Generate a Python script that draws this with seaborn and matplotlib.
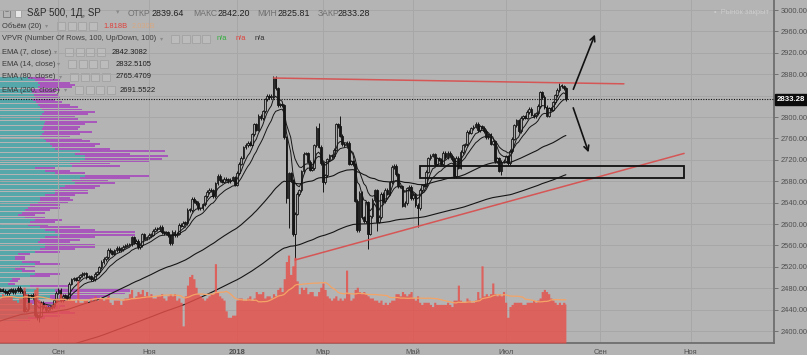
#!/usr/bin/env python3
"""S&P 500 daily chart (Jul 2017 - Aug 2018) with EMAs, volume, VPVR and drawings."""
import numpy as np
import pandas as pd
import matplotlib
matplotlib.use("Agg")
import matplotlib.pyplot as plt
import matplotlib.transforms as mtransforms
from matplotlib.patches import Rectangle
import seaborn as sns

# ---------------------------------------------------------------- data
START = "2017-07-21"
HOLIDAYS = ["2017-09-04", "2017-11-23", "2017-12-25", "2018-01-01", "2018-01-15",
            "2018-02-19", "2018-03-30", "2018-05-28", "2018-07-04", "2018-09-03",
            "2018-11-22"]

CLOSES = [
    2472.54, 2469.91, 2477.13, 2477.83, 2475.42, 2472.10, 2470.30,
    2476.35, 2477.57, 2472.16, 2476.83, 2480.91, 2474.92, 2474.02, 2438.21, 2441.32, 2465.84,
    2464.61, 2468.11, 2430.01, 2425.55, 2428.37, 2452.51, 2444.04, 2438.97, 2443.05, 2444.24,
    2446.30, 2457.59, 2471.65,
    2476.55, 2457.85, 2465.54, 2465.10, 2461.43, 2488.11, 2496.48, 2498.37, 2495.62, 2500.23,
    2503.87, 2506.65, 2508.24, 2500.60, 2502.22, 2496.66, 2496.84, 2507.04, 2510.06, 2519.36,
    2529.12, 2534.58, 2537.74, 2552.07, 2549.33, 2544.73, 2550.64, 2555.24, 2550.93, 2553.17,
    2557.64, 2559.36, 2561.26, 2562.10, 2575.21, 2564.98, 2569.13, 2557.15, 2560.40, 2581.07,
    2572.83, 2575.26,
    2579.36, 2579.85, 2587.84, 2591.13, 2590.64, 2594.38, 2584.62, 2582.30, 2584.84, 2578.87,
    2564.62, 2585.64, 2578.85, 2582.14, 2599.03, 2597.08, 2602.42, 2601.42, 2627.04, 2626.07,
    2647.58,
    2642.22, 2639.44, 2629.57, 2629.27, 2636.98, 2651.50, 2659.99, 2664.11, 2662.85, 2652.01,
    2675.81, 2690.16, 2681.47, 2679.25, 2684.57, 2683.34, 2680.50, 2682.62, 2687.54, 2673.61,
    2695.81, 2713.06, 2723.99, 2743.15, 2747.71, 2751.29, 2748.23, 2767.56, 2786.24, 2776.42,
    2802.56, 2798.03, 2810.30, 2832.97, 2839.13, 2837.54, 2839.25, 2872.87, 2853.53, 2822.43,
    2823.81,
    2821.98, 2762.13, 2648.94, 2695.14, 2681.66, 2581.00, 2619.55, 2656.00, 2662.94, 2698.63,
    2731.20, 2732.22, 2716.26, 2701.33, 2703.96, 2747.30, 2779.60, 2744.28, 2713.83,
    2677.67, 2691.25, 2720.94, 2728.12, 2726.80, 2738.97, 2786.57, 2783.02, 2765.31, 2749.48,
    2747.33, 2752.01, 2712.92, 2716.94, 2711.93, 2643.69, 2588.26, 2658.55, 2612.62, 2605.00,
    2640.87,
    2581.88, 2614.45, 2644.69, 2662.84, 2604.47, 2613.16, 2656.87, 2642.19, 2663.99, 2656.30,
    2677.84, 2706.39, 2708.64, 2693.13, 2670.14, 2670.29, 2634.56, 2639.40, 2666.94, 2669.91,
    2648.05,
    2654.80, 2635.67, 2629.73, 2663.42, 2672.63, 2671.92, 2697.79, 2723.07, 2727.72, 2730.13,
    2711.45, 2722.46, 2720.13, 2712.97, 2733.01, 2724.44, 2733.29, 2727.76, 2721.33, 2689.86,
    2724.01, 2705.27,
    2734.62, 2746.87, 2748.80, 2772.35, 2770.37, 2779.03, 2782.00, 2786.85, 2775.63, 2782.49,
    2779.66, 2773.87, 2762.59, 2767.32, 2749.76, 2754.88, 2717.07, 2723.06, 2699.63, 2716.31,
    2718.37,
    2726.71, 2713.22, 2736.61, 2759.82, 2784.17, 2793.84, 2774.02, 2798.29, 2801.31, 2798.43,
    2809.55, 2815.62, 2804.49, 2801.83, 2806.98, 2820.40, 2846.07, 2837.44, 2818.82, 2802.60,
    2816.29,
    2813.36, 2827.22, 2840.35, 2850.40, 2858.45, 2857.70, 2853.58, 2833.28,
]

# volume, billions
VOLUMES = [
    2.0, 2.1, 2.2, 2.1, 2.3, 2.2, 2.2,
    2.2, 2.2, 2.0, 2.0, 1.9, 2.1, 2.1, 2.6, 2.3, 1.9, 1.9, 1.8, 2.5, 2.6, 2.0, 1.9, 1.8, 1.8,
    1.7, 1.7, 1.8, 1.9, 2.1,
    2.0, 2.3, 2.1, 2.0, 2.0, 2.1, 2.0, 2.0, 1.9, 2.9, 1.9, 1.9, 2.0, 2.0, 1.9, 2.1, 2.0, 2.2,
    2.0, 2.1,
    2.1, 2.0, 2.1, 2.2, 1.9, 1.8, 2.0, 2.0, 2.0, 1.8, 2.0, 2.1, 2.1, 2.3, 2.5, 2.1, 2.2, 2.4,
    2.3, 2.5, 2.2, 2.4,
    2.2, 2.3, 2.1, 2.1, 2.2, 2.2, 2.3, 2.1, 2.0, 2.2, 2.3, 2.2, 2.3, 2.0, 2.1, 1.9, 0.8, 2.2,
    2.7, 3.1, 3.2,
    3.0, 2.6, 2.3, 2.2, 2.1, 2.0, 2.1, 2.2, 2.3, 2.3, 3.7, 2.4, 2.2, 2.1, 2.0, 1.5, 1.2, 1.2,
    1.3, 1.3,
    2.0, 2.1, 2.1, 2.0, 2.0, 2.1, 2.2, 2.0, 2.1, 2.4, 2.3, 2.3, 2.4, 2.1, 2.2, 2.2, 2.1, 2.3,
    2.2, 2.5, 2.6,
    2.4, 3.0, 3.8, 4.1, 3.2, 3.6, 4.0, 2.9, 2.3, 2.6, 2.5, 2.6, 2.3, 2.4, 2.4, 2.2, 2.2, 2.4,
    2.6,
    2.8, 2.5, 2.2, 2.1, 2.0, 2.1, 2.2, 2.0, 2.1, 2.0, 2.1, 3.4, 2.3, 2.0, 2.1, 2.5, 2.6, 2.4,
    2.3, 2.4, 2.3,
    2.2, 2.1, 2.1, 2.0, 2.0, 1.9, 2.0, 1.8, 1.9, 1.8, 1.9, 2.0, 2.0, 2.3, 2.3, 2.2, 2.4, 2.3,
    2.2, 2.3, 2.4,
    2.1, 2.0, 2.2, 1.9, 1.8, 1.9, 1.9, 1.9, 1.8, 1.7, 1.9, 1.8, 1.8, 1.8, 1.8, 1.8, 1.9, 1.8,
    1.7, 2.0, 2.0, 2.7,
    2.0, 1.9, 1.9, 2.1, 2.0, 1.9, 1.9, 2.0, 2.4, 2.1, 3.6, 2.2, 2.3, 2.2, 2.3, 2.8, 2.3, 2.2,
    2.3, 2.2, 2.4,
    1.9, 1.2, 1.7, 1.8, 1.9, 1.9, 1.9, 1.9, 1.8, 1.8, 1.9, 1.9, 1.9, 2.0, 1.9, 2.0, 2.1, 2.4,
    2.5, 2.4, 2.3,
    2.1, 2.0, 1.9, 1.8, 1.9, 1.8, 1.9, 1.818,
]

# notable intraday extremes (others: small wick around the body)
HIGH_MARKS = {"2018-01-26": 2872.87, "2018-02-27": 2789.15, "2018-03-13": 2801.90,
              "2018-07-26": 2848.03, "2018-08-07": 2863.43}
LOW_MARKS = {"2017-08-11": 2437.75, "2017-08-18": 2420.69, "2017-08-21": 2417.35,
             "2018-02-02": 2759.97, "2018-02-05": 2638.67, "2018-02-06": 2593.07,
             "2018-02-08": 2580.56, "2018-02-09": 2532.69, "2018-03-01": 2659.65,
             "2018-03-23": 2585.89, "2018-04-02": 2553.80, "2018-04-06": 2586.27,
             "2018-05-03": 2594.62, "2018-06-28": 2691.99}

# EMA values at the first bar (long EMAs need history)
EMA80_START = 2413.0
EMA200_START = 2335.0

# visible range volume profile, 100 rows from top price to bottom price
VPVR_UP = [28, 35, 38, 40, 38, 32, 32, 34, 35, 33, 36, 38, 40, 42, 44, 42, 40, 40, 45, 44,
           43, 42, 44, 42, 40, 44, 46, 50, 52, 55, 80, 75, 85, 85, 80, 70, 72, 35, 45, 55,
           85, 80, 72, 75, 65, 60, 55, 55, 45, 40, 40, 38, 30, 28, 25, 22, 18, 25, 35, 30,
           28, 40, 45, 55, 60, 45, 40, 38, 45, 45, 40, 35, 18, 15, 15, 22, 35, 20, 15, 22,
           35, 30, 12, 10, 8, 30, 55, 55, 55, 50, 50, 25, 30, 35, 35, 40, 40, 35, 28, 18]
VPVR_DOWN = [17, 25, 32, 35, 34, 28, 23, 24, 25, 22, 26, 32, 38, 40, 51, 46, 35, 38, 52, 41,
             37, 36, 48, 38, 30, 38, 44, 50, 43, 55, 85, 55, 83, 77, 70, 40, 48, 20, 25, 30,
             65, 50, 36, 40, 35, 35, 33, 33, 30, 30, 33, 30, 30, 32, 25, 23, 17, 20, 27, 25,
             20, 40, 50, 80, 75, 50, 40, 32, 50, 50, 35, 25, 12, 10, 10, 18, 25, 15, 10, 13,
             25, 20, 8, 8, 7, 40, 75, 75, 70, 60, 50, 15, 25, 30, 25, 30, 35, 25, 17, 12]

MONTH_TICKS = [("2017-09", "Сен"), ("2017-11", "Ноя"), ("2018-01", "2018"), ("2018-03", "Мар"),
               ("2018-05", "Май"), ("2018-07", "Июл"), ("2018-09", "Сен"), ("2018-11", "Ноя")]

# drawings made on the chart (date, price)
TREND_TOP = [("2018-01-26", 2872.87), ("2018-09-19", 2862.0)]
TREND_LOW = [("2018-02-09", 2532.69), ("2018-10-29", 2732.0)]
ZONE = [("2018-05-04", 2686.0), ("2018-10-29", 2708.5)]
ARROW_UP = [("2018-08-15", 2847.0), ("2018-08-30", 2959.0)]
ARROW_DOWN = [("2018-08-15", 2822.0), ("2018-08-27", 2729.0)]

# ---------------------------------------------------------------- style
W, H = 807, 355
BG = "#b4b4b4"
GRID = "#a7a7a7"
TXT = "#3a3a3a"
UP_CLR, DOWN_CLR = "#55a7aa", "#a858bb"
VOL_CLR = "#e6504b"
CANDLE = "#161616"

sns.set_theme(style="white", rc={"axes.facecolor": BG, "figure.facecolor": BG})
plt.rcParams["font.family"] = ["Liberation Sans", "DejaVu Sans"]

# ---------------------------------------------------------------- derived series
calendar = pd.bdate_range(START, "2018-11-30", freq="C", holidays=HOLIDAYS)
pos = {d.strftime("%Y-%m-%d"): i for i, d in enumerate(calendar)}
n = len(CLOSES)
x = np.arange(n)

closes = np.array(CLOSES, dtype=float)
opens = np.r_[closes[0], closes[:-1]]
WICK = 3.0
highs = np.maximum(opens, closes) + WICK
lows = np.minimum(opens, closes) - WICK
for d, v in HIGH_MARKS.items():
    highs[pos[d]] = max(highs[pos[d]], v)
for d, v in LOW_MARKS.items():
    lows[pos[d]] = min(lows[pos[d]], v)


def ema(values, span, start=None):
    s = pd.Series(values, dtype=float)
    if start is not None:
        s = pd.concat([pd.Series([start]), s], ignore_index=True)
        return s.ewm(span=span, adjust=False).mean().to_numpy()[1:]
    return s.ewm(span=span, adjust=False).mean().to_numpy()


ema7 = ema(closes, 7)
ema14 = ema(closes, 14)
ema80 = ema(closes, 80, EMA80_START)
ema200 = ema(closes, 200, EMA200_START)
vol_ma = pd.Series(VOLUMES).rolling(20, min_periods=1).mean().to_numpy()

# ---------------------------------------------------------------- figure
fig = plt.figure(figsize=(W / 100, H / 100), dpi=100, facecolor=BG)
RECT = [0, 12 / H, 774 / W, 343 / H]
XLIM = (2.8, 362.8)
YLIM = (2377.6, 3018.7)

# volume profile (behind everything)
ax_vp = fig.add_axes(RECT, zorder=0)
ax_vp.set_facecolor(BG)
p_hi, p_lo = highs.max(), lows.min()
rows = len(VPVR_UP)
row_h = (p_hi - p_lo) / rows
centers = p_hi - (np.arange(rows) + 0.5) * row_h
ax_vp.barh(centers, VPVR_UP, height=row_h * 0.78, color=UP_CLR, linewidth=0)
ax_vp.barh(centers, VPVR_DOWN, left=VPVR_UP, height=row_h * 0.78, color=DOWN_CLR, linewidth=0)
ax_vp.set_xlim(0, 774)
ax_vp.set_ylim(*YLIM)
ax_vp.axis("off")

# price axes
ax = fig.add_axes(RECT, zorder=1)
ax.patch.set_alpha(0)
ax.set_xlim(*XLIM)
ax.set_ylim(*YLIM)
ax.grid(True, color=GRID, lw=0.7)
ax.set_axisbelow(True)

up = closes >= opens
body_lo = np.minimum(opens, closes)
body_h = np.maximum(np.abs(closes - opens), 1.5)
ax.vlines(x, lows, highs, color=CANDLE, lw=0.7, zorder=3)
ax.bar(x[up], body_h[up], bottom=body_lo[up], width=0.78, color="#a9a9a9",
       edgecolor=CANDLE, linewidth=0.6, zorder=4)
ax.bar(x[~up], body_h[~up], bottom=body_lo[~up], width=0.78, color=CANDLE,
       edgecolor=CANDLE, linewidth=0.6, zorder=4)

for series, lw in [(ema7, 0.7), (ema14, 0.7), (ema80, 0.8), (ema200, 0.8)]:
    sns.lineplot(x=x, y=series, ax=ax, color="#151515", lw=lw, zorder=5)


# drawings
def xy(pair):
    return pos[pair[0]], pair[1]


for line in (TREND_TOP, TREND_LOW):
    (x0, y0), (x1, y1) = xy(line[0]), xy(line[1])
    ax.plot([x0, x1], [y0, y1], color="#d65555", lw=1.1, zorder=6)
(zx0, zy0), (zx1, zy1) = xy(ZONE[0]), xy(ZONE[1])
ax.add_patch(Rectangle((zx0, zy0), zx1 - zx0, zy1 - zy0, fill=False,
                       edgecolor="#111111", lw=1.3, zorder=6))
for arr in (ARROW_UP, ARROW_DOWN):
    ax.annotate("", xy=xy(arr[1]), xytext=xy(arr[0]),
                arrowprops=dict(arrowstyle="->", color="#111111", lw=1.2,
                                mutation_scale=9), zorder=7)

last = closes[-1]
ax.axhline(last, color="#111111", lw=0.8, ls=(0, (1, 1.3)), zorder=6)

# axes, ticks (the 2840 label sits under the last-price tag)
ticks = np.arange(2400, 3001, 40)
ax.set_yticks(ticks)
ax.set_yticklabels(["" if abs(t - last) < 20 else f"{t:.2f}" for t in ticks])
ax.yaxis.tick_right()
ax.tick_params(axis="y", length=3, width=0.7, color="#707070", labelsize=5.4,
               labelcolor="#505050", pad=2)
month_pos = [next(i for i, d in enumerate(calendar) if d.strftime("%Y-%m") == m)
             for m, _ in MONTH_TICKS]
ax.set_xticks(month_pos)
ax.set_xticklabels([lab for _, lab in MONTH_TICKS])
ax.tick_params(axis="x", length=3, width=0.7, color="#707070", labelsize=5.4,
               labelcolor="#505050", pad=1.5)
for lab in ax.get_xticklabels():
    if lab.get_text() == "2018":
        lab.set_fontweight("bold")
ax.set_xlabel("")
ax.set_ylabel("")
for side in ("top", "left"):
    ax.spines[side].set_visible(False)
for side in ("right", "bottom"):
    ax.spines[side].set_color("#6e6e6e")
    ax.spines[side].set_linewidth(1.3)

trans = mtransforms.blended_transform_factory(ax.transAxes, ax.transData)
ax.text(1.004, last, f"{last:.2f}", transform=trans, ha="left", va="center",
        color="white", fontsize=5.6, fontweight="bold", clip_on=False, zorder=10,
        bbox=dict(boxstyle="square,pad=0.28", facecolor="#0c0c0c", edgecolor="#0c0c0c"))

# volume overlay
ax_vol = fig.add_axes(RECT, zorder=2)
ax_vol.patch.set_alpha(0)
ax_vol.fill_between(x, 0, VOLUMES, step="mid", color=VOL_CLR, alpha=0.82, linewidth=0)
sns.lineplot(x=x, y=vol_ma, ax=ax_vol, color="#f4a466", lw=0.9)
ax_vol.set_xlim(*XLIM)
ax_vol.set_ylim(0, 16)
ax_vol.axis("off")


# ---------------------------------------------------------------- legend text
def put(px, py, s, size=5.4, color=TXT, weight="normal", alpha=1.0):
    fig.text(px / W, 1 - py / H, s, fontsize=size, color=color, ha="left",
             va="center", fontweight=weight, alpha=alpha)


def icons(px, py):
    for k in range(4):
        fig.add_artist(Rectangle(((px + k * 10.5) / W, 1 - (py + 4) / H), 8 / W, 8 / H,
                                 transform=fig.transFigure, facecolor="#bcbcbc",
                                 edgecolor="#a2a2a2", lw=0.6))


fig.add_artist(Rectangle((3 / W, 1 - 17 / H), 7 / W, 7 / H, transform=fig.transFigure,
                         facecolor="none", edgecolor="#7a7a7a", lw=0.6))
fig.add_artist(Rectangle((15 / W, 1 - 17 / H), 6 / W, 7 / H, transform=fig.transFigure,
                         facecolor="#e6e6e6", edgecolor="#9a9a9a", lw=0.6))
put(4.3, 13, "−", size=5, color="#6a6a6a")
put(27, 13, "S&P 500, 1Д, SP", size=7, color="#2a2a2a")
put(116, 13, "▾", size=5, color="#8a8a8a")
for px, lab, val_px, val in [(128, "ОТКР", 152, "2839.64"), (193, "МАКС", 218, "2842.20"),
                             (257, "МИН", 278, "2825.81"), (318, "ЗАКР", 338, "2833.28")]:
    put(px, 13, lab, size=6.2, color="#707070")
    put(val_px, 13, val, size=6.4, color="#202020")

put(2, 26, "Объём (20)")
put(45, 26, "▾", size=4.5, color="#8a8a8a")
icons(57, 26)
put(103, 26, "1.818B", color="#e0403a")
put(132, 26, "2.030B", color="#f0a060", alpha=0.6)

put(2, 39, "VPVR (Number Of Rows, 100, Up/Down, 100)")
put(160, 39, "▾", size=4.5, color="#8a8a8a")
icons(171, 39)
put(217, 39, "n/a", color="#2fae3a")
put(236, 39, "n/a", color="#e0403a")
put(255, 39, "n/a", color="#303030")

for py, lab, ix, vx, val in [(52, "EMA (7, close)", 65, 112, "2842.3082"),
                             (64, "EMA (14, close)", 68, 116, "2832.5105"),
                             (77, "EMA (80, close)", 70, 116, "2765.4709"),
                             (90, "EMA (200, close)", 75, 120, "2691.5522")]:
    put(2, py, lab)
    put(ix - 11, py, "▾", size=4.5, color="#8a8a8a")
    icons(ix, py)
    put(vx, py, val, size=5.5, color="#202020")

put(714, 12, "•  Рынок закрыт", size=5.4, color="#cdcdcd")

fig.savefig("out.png", dpi=100, facecolor=BG)
